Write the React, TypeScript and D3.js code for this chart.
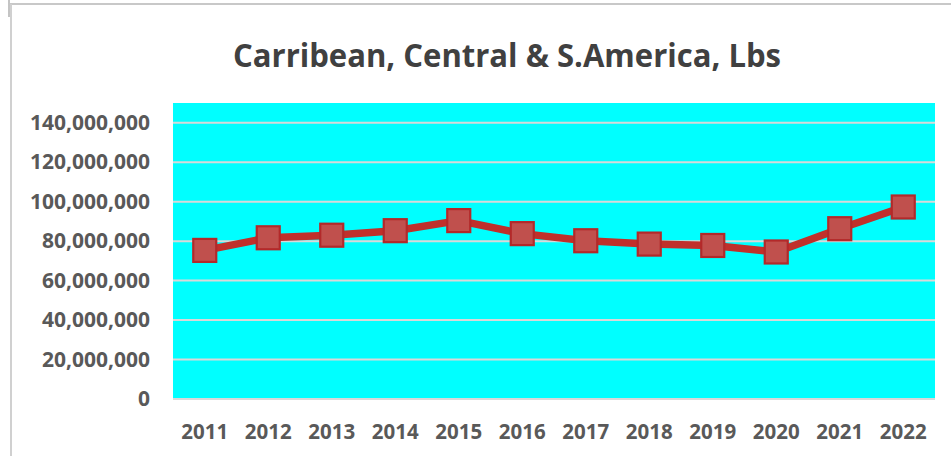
import React, { useEffect, useRef } from "react";
import * as d3 from "d3";

const years = ["2011", "2012", "2013", "2014", "2015", "2016", "2017", "2018", "2019", "2020", "2021", "2022"];
const pounds = [75300000, 81700000, 83000000, 85300000, 90400000, 83800000, 80200000, 78500000, 77800000, 74500000, 86300000, 97300000];
const yTicks = [0, 20000000, 40000000, 60000000, 80000000, 100000000, 120000000, 140000000];
const title = "Carribean, Central & S.America, Lbs";

const W = 951;
const H = 456;
const font = "'Open Sans', 'DejaVu Sans', sans-serif";

const App: React.FC = () => {
  const svgRef = useRef<SVGSVGElement | null>(null);

  useEffect(() => {
    const svg = d3.select(svgRef.current);
    svg.selectAll("*").remove();

    const plot = { left: 173, right: 935, top: 103, bottom: 399 };

    const x = d3.scaleBand().domain(years).range([plot.left, plot.right]);
    const y = d3.scaleLinear().domain([0, 150000000]).range([plot.bottom, plot.top]);

    // chart frame
    svg.append("rect").attr("width", W).attr("height", H).attr("fill", "#fff");
    svg.append("line").attr("x1", 10).attr("x2", W).attr("y1", 4).attr("y2", 4)
      .attr("stroke", "#c8c8c8").attr("stroke-width", 2);
    svg.append("line").attr("x1", 11).attr("x2", 11).attr("y1", 4).attr("y2", H)
      .attr("stroke", "#d0d0d0").attr("stroke-width", 2);
    svg.append("line").attr("x1", 9).attr("x2", 9).attr("y1", 0).attr("y2", 17)
      .attr("stroke", "#b0b0b0").attr("stroke-width", 1.5);

    // title
    svg.append("text")
      .attr("x", 507).attr("y", 67)
      .attr("text-anchor", "middle")
      .attr("font-family", font).attr("font-weight", 700).attr("font-size", 33)
      .attr("textLength", 548).attr("lengthAdjust", "spacingAndGlyphs")
      .attr("fill", "#404040")
      .text(title);

    // plot background
    svg.append("rect")
      .attr("x", plot.left).attr("y", plot.top)
      .attr("width", plot.right - plot.left).attr("height", plot.bottom - plot.top)
      .attr("fill", "#00ffff");

    // gridlines
    svg.append("g").selectAll("line")
      .data(yTicks)
      .enter().append("line")
      .attr("x1", plot.left).attr("x2", plot.right)
      .attr("y1", (d) => y(d)).attr("y2", (d) => y(d))
      .attr("stroke", "#d9d9d9").attr("stroke-width", 2);

    // y labels
    svg.append("g").selectAll("text")
      .data(yTicks)
      .enter().append("text")
      .attr("x", 150).attr("y", (d) => y(d) + 7)
      .attr("text-anchor", "end")
      .attr("font-family", font).attr("font-weight", 700).attr("font-size", 21)
      .attr("fill", "#595959")
      .text((d) => d3.format(",")(d));

    // x labels
    svg.append("g").selectAll("text")
      .data(years)
      .enter().append("text")
      .attr("x", (d) => x(d)! + x.bandwidth() / 2).attr("y", 439)
      .attr("text-anchor", "middle")
      .attr("font-family", font).attr("font-weight", 700).attr("font-size", 20.5)
      .attr("fill", "#595959")
      .text((d) => d);

    const cx = (i: number) => x(years[i])! + x.bandwidth() / 2;

    // line
    const line = d3.line<number>().x((_, i) => cx(i)).y((d) => y(d));
    svg.append("path")
      .datum(pounds)
      .attr("d", line)
      .attr("fill", "none")
      .attr("stroke", "#c0302b")
      .attr("stroke-width", 7.5)
      .attr("stroke-linejoin", "round");

    // markers
    const s = 23;
    svg.append("g").selectAll("rect")
      .data(pounds)
      .enter().append("rect")
      .attr("x", (_, i) => cx(i) - s / 2)
      .attr("y", (d) => y(d) - s / 2)
      .attr("width", s).attr("height", s)
      .attr("fill", "#c0504d")
      .attr("stroke", "#b3292a").attr("stroke-width", 2.2);
  }, []);

  return (
    <div style={{ position: "absolute", left: 0, top: 0 }}>
      <svg ref={svgRef} width={W} height={H} style={{ display: "block" }}></svg>
    </div>
  );
};

export default App;
